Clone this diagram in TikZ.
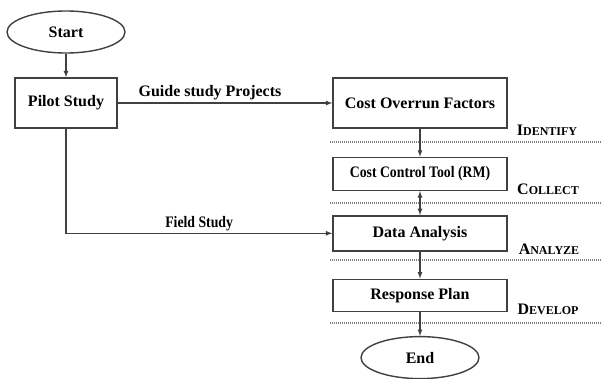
\documentclass[tikz,border=0pt]{standalone}
\usepackage{fontspec}
\setmainfont{Liberation Serif}
\usetikzlibrary{arrows, positioning, shapes.geometric}
\newcommand{\phasename}[2]{{\fontsize{16}{16}\selectfont #1}{\fontsize{12}{12}\selectfont #2}}
\newcommand{\narrow}[1]{\scalebox{0.86}[1]{#1}}
\tikzset{%
	term/.style={draw=black!75, ellipse, line width=1.4pt, inner sep=0mm,%
		minimum width=118pt, minimum height=42pt, font=\bfseries\fontsize{16}{18}\selectfont},
	stage/.style={draw=black!75, rectangle, line width=1.4pt, minimum width=174pt,%
		inner sep=0mm, font=\bfseries\fontsize{16}{18}\selectfont},
	flow/.style={->, >=latex, line width=1.2pt, draw=black!75},
	tag/.style={font=\bfseries\fontsize{16}{18}\selectfont, inner sep=2pt},
	phase/.style={font=\bfseries, inner sep=0pt},
	sep/.style={draw=black!50, line width=2pt, dash pattern=on 1pt off 1pt}
}

\begin{document}
\begin{tikzpicture}[x=1pt, y=-1pt]
	\useasboundingbox (0,0) rectangle (602,378);
	\node[term]                               (start)    at (66,32) {Start};
	\node[stage, minimum width=102pt, minimum height=50pt] (pilot) at (66,103) {Pilot Study};
	\node[stage, minimum height=50pt]         (factors)  at (420,103) {Cost Overrun Factors};
	\node[stage, minimum height=33pt, below=28pt of factors] (tool) {\narrow{Cost Control Tool (RM)}};
	\node[stage, minimum height=35pt, below=24pt of tool]     (analysis) {Data Analysis};
	\node[stage, minimum height=32pt, below=27pt of analysis] (response) {Response Plan};
	\node[term, below=24pt of response]       (end) {End};

	% phases on the right
	\node[phase] (identify) at (547,130) {\phasename{I}{DENTIFY}};
	\node[phase] (collect)  at (548,189) {\phasename{C}{OLLECT}};
	\node[phase] (analyze)  at (549,249) {\phasename{A}{NALYZE}};
	\node[phase] (develop)  at (548,309) {\phasename{D}{EVELOP}};
	\foreach \y in {141.5, 203, 260, 323}
		\draw[sep] (330,\y) -- (602,\y);

	\draw[flow] (start) -- (pilot);
	\draw[flow] (pilot) -- node[tag, pos=0.43, above]{Guide study Projects} (factors);
	\draw[flow] (pilot) |- node[tag, pos=0.75, above]{\narrow{Field Study}} (analysis);
	\draw[flow] (factors) -- (tool);
	\draw[flow, <->] (tool) -- (analysis);
	\draw[flow] (analysis) -- (response);
	\draw[flow] (response) -- (end);
\end{tikzpicture}
\end{document}
